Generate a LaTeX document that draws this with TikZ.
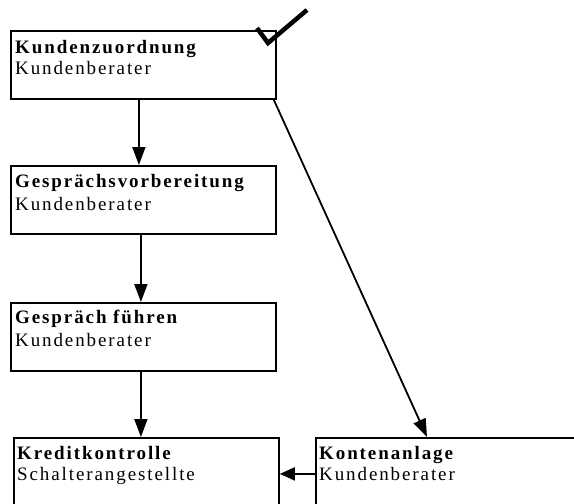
\documentclass[tikz,border=0pt]{standalone}
\usepackage{fontspec}
\setmainfont{Liberation Serif}
\newfontfamily\boxfont[LetterSpace=10]{Liberation Serif}
\usetikzlibrary{arrows.meta}

\begin{document}
\begin{tikzpicture}[x=1pt,y=-1pt,
  box/.style={draw, line width=1.8pt, inner sep=0pt, anchor=north west,
              minimum width=265pt, minimum height=68pt},
  title/.style={anchor=base west, inner sep=0pt,
                font=\boxfont\fontsize{19}{21}\selectfont\bfseries},
  role/.style={anchor=base west, inner sep=0pt,
               font=\boxfont\fontsize{19}{21}\selectfont},
  flow/.style={line width=1.8pt, -{Triangle[length=18pt,width=13pt]}}]
\useasboundingbox (0,0) rectangle (574,504);
\clip (0,0) rectangle (574,504);

% process steps
\node[box] (b1) at (10,30) {};
\node[title] (t1) at (15,53) {Kundenzuordnung};
\node[role]  (r1) at (15,74) {Kundenberater};

\node[box] (b2) at (10,165) {};
\node[title] (t2) at (15,187) {Gesprächsvorbereitung};
\node[role]  (r2) at (15,210) {Kundenberater};

\node[box] (b3) at (10,302) {};
\node[title] (t3) at (15,323) {Gespräch führen};
\node[role]  (r3) at (15,346) {Kundenberater};

\node[box, minimum height=72pt] (b4) at (13,437) {};
\node[title] (t4) at (17,459) {Kreditkontrolle};
\node[role]  (r4) at (17,480) {Schalterangestellte};

\node[box, minimum height=72pt, minimum width=275pt] (b5) at (315,437) {};
\node[title] (t5) at (319,459) {Kontenanlage};
\node[role]  (r5) at (319,480) {Kundenberater};

% check mark on the first step
\draw[line width=4.5pt] (257,28) -- (268,43) -- (307,10);

% flow
\draw[flow] ([xshift=-4.5pt]b1.south) -- ([xshift=-4.5pt]b2.north);
\draw[flow] ([xshift=-2.5pt]b2.south) -- ([xshift=-2.5pt]b3.north);
\draw[flow] ([xshift=-2.5pt]b3.south) -- ([xshift=-5.5pt]b4.north);
\draw[flow] ([xshift=-3pt]b1.south east) -- ([xshift=112pt]b5.north west);
\draw[flow, -{Triangle[length=15pt,width=13pt]}] (b5.west) -- (b4.east);
\end{tikzpicture}
\end{document}
